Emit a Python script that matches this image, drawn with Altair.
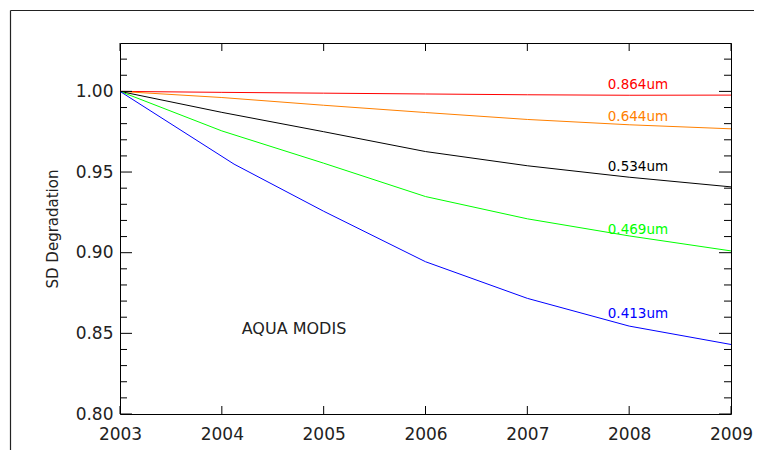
import altair as alt
import pandas as pd

# ---- data ----
bands = ["0.864um", "0.644um", "0.534um", "0.469um", "0.413um"]
colors = ["#ff0000", "#ff8000", "#000000", "#00ff00", "#0000ff"]

years = [2003, 2004, 2005, 2006, 2007, 2008, 2009]
red_y = [1.0, 0.9994, 0.9989, 0.9984, 0.9979, 0.9976, 0.9977]
orange_y = [1.0, 0.9962, 0.9914, 0.9869, 0.9826, 0.9793, 0.9768]
black_y = [1.0, 0.9870, 0.9750, 0.9627, 0.9539, 0.9468, 0.9408]
green_y = [1.0, 0.9755, 0.9555, 0.9348, 0.9210, 0.9104, 0.9011]
blue_x = [2003, 2004.12, 2005, 2006, 2007, 2008, 2009]
blue_y = [1.0, 0.9549, 0.9257, 0.8944, 0.8717, 0.8545, 0.8431]

label_x = [2007.79, 2007.79, 2007.79, 2007.79, 2007.79]
label_y = [1.0039, 0.9843, 0.9532, 0.9140, 0.8622]

note_text = ["AQUA MODIS"]
note_x = [2004.195]
note_y = [0.8529]

x_ticks = [2003, 2004, 2005, 2006, 2007, 2008, 2009]
y_major = [0.80, 0.85, 0.90, 0.95, 1.00]
y_minor = [0.81, 0.82, 0.83, 0.84, 0.86, 0.87, 0.88, 0.89, 0.91, 0.92,
           0.93, 0.94, 0.96, 0.97, 0.98, 0.99, 1.01, 1.02]

# ---- tables ----
rows = []
for b, xs_, ys_ in [
    (bands[0], years, red_y),
    (bands[1], years, orange_y),
    (bands[2], years, black_y),
    (bands[3], years, green_y),
    (bands[4], blue_x, blue_y),
]:
    for xv, yv in zip(xs_, ys_):
        rows.append({"year": xv, "value": yv, "band": b})
lines_df = pd.DataFrame(rows)
labels_df = pd.DataFrame({"band": bands, "year": label_x, "value": label_y})
note_df = pd.DataFrame({"text": note_text, "year": note_x, "value": note_y})
xt_df = pd.DataFrame({"year": x_ticks})
ymaj_df = pd.DataFrame({"value": y_major})
ymin_df = pd.DataFrame({"value": y_minor})
one = pd.DataFrame({"a": [0]})

W, H = 611, 371
FONT = "DejaVu Sans"

xs = alt.Scale(domain=[2003, 2009], nice=False, zero=False)
ys = alt.Scale(domain=[0.80, 1.03], nice=False, zero=False)
cs = alt.Scale(domain=bands, range=colors)

x_axis = alt.Axis(
    values=x_ticks, format="d", title=None, ticks=False, tickSize=0,
    domain=False, grid=False, labelPadding=12, labelFontSize=17,
    labelFont=FONT, labelColor="#222222", labelFlush=False)
y_axis = alt.Axis(
    values=y_major, format=".2f", title="SD Degradation", ticks=False,
    tickSize=0, domain=False, grid=False, labelPadding=7,
    labelFontSize=17, labelFont=FONT, labelColor="#222222",
    titleFont=FONT, titleFontSize=15, titleFontWeight="normal",
    titleColor="#222222", titlePadding=15, labelFlush=False)

X = lambda f: alt.X(f, scale=xs, axis=x_axis)
Y = lambda f: alt.Y(f, scale=ys, axis=y_axis)

lines = alt.Chart(lines_df).mark_line(strokeWidth=1, clip=True).encode(
    x=X("year:Q"),
    y=Y("value:Q"),
    color=alt.Color("band:N", scale=cs, legend=None),
    detail="band:N",
)

labels = alt.Chart(labels_df).mark_text(
    align="left", baseline="middle", fontSize=13.5, font=FONT
).encode(
    x=X("year:Q"),
    y=Y("value:Q"),
    text="band:N",
    color=alt.Color("band:N", scale=cs, legend=None),
)

note = alt.Chart(note_df).mark_text(
    align="left", baseline="middle", fontSize=16, font=FONT, color="#222222"
).encode(
    x=X("year:Q"),
    y=Y("value:Q"),
    text="text:N",
)

tick_style = dict(color="black", strokeWidth=1)
ymaj_l = alt.Chart(ymaj_df).mark_rule(**tick_style).encode(
    y=Y("value:Q"), x=alt.value(0), x2=alt.value(12))
ymaj_r = alt.Chart(ymaj_df).mark_rule(**tick_style).encode(
    y=Y("value:Q"), x=alt.value(W - 12), x2=alt.value(W))
ymin_l = alt.Chart(ymin_df).mark_rule(**tick_style).encode(
    y=Y("value:Q"), x=alt.value(0), x2=alt.value(7))
ymin_r = alt.Chart(ymin_df).mark_rule(**tick_style).encode(
    y=Y("value:Q"), x=alt.value(W - 7), x2=alt.value(W))
xt_b = alt.Chart(xt_df).mark_rule(**tick_style).encode(
    x=X("year:Q"), y=alt.value(H - 8), y2=alt.value(H))
xt_t = alt.Chart(xt_df).mark_rule(**tick_style).encode(
    x=X("year:Q"), y=alt.value(0), y2=alt.value(8))

frame_top = alt.Chart(one).mark_rule(color="#222222", strokeWidth=1.2).encode(
    x=alt.value(-109.5), x2=alt.value(660), y=alt.value(-32.5))
frame_left = alt.Chart(one).mark_rule(color="#222222", strokeWidth=1.2).encode(
    x=alt.value(-109.5), y=alt.value(-32.5), y2=alt.value(440))

chart = alt.layer(
    lines, labels, note, ymaj_l, ymaj_r, ymin_l, ymin_r, xt_b, xt_t,
    frame_top, frame_left
).properties(
    width=W, height=H,
    autosize=alt.AutoSizeParams(type="none"),
    padding={"left": 112, "top": 35, "right": 23, "bottom": 36},
    background="white",
).configure_view(
    stroke="black", strokeWidth=1
)

chart.save("out.html", embed_options={"renderer": "svg", "actions": False})
